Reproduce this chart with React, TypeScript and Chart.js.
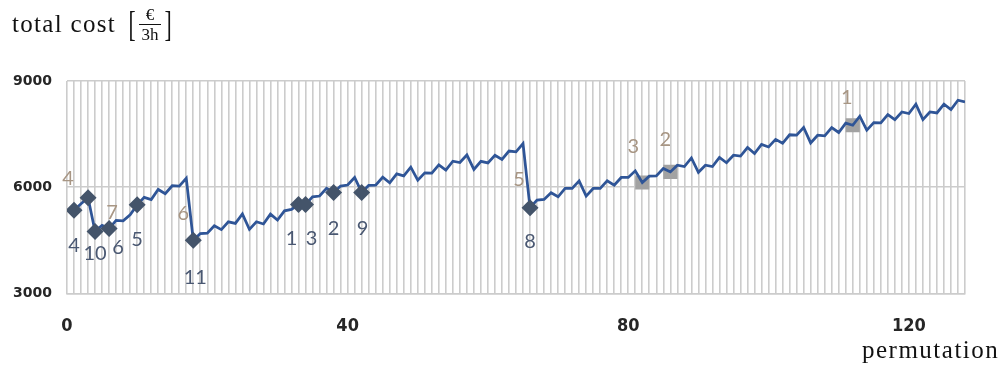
import React, { useEffect, useRef } from 'react';
import { Chart, registerables } from 'chart.js';

Chart.register(...registerables);

// Total cost per permutation (permutation 1..128)
const COST = [
  5350, 5530, 5700, 4750, 4920, 4830, 5060, 5050, 5220, 5500,
  5710, 5650, 5935, 5815, 6040, 6030, 6250, 4500, 4690, 4700,
  4910, 4800, 5020, 4975, 5240, 4806, 5021, 4960, 5238, 5069,
  5331, 5370, 5510, 5510, 5727, 5750, 5970, 5850, 6030, 6060,
  6273, 5850, 6048, 6057, 6280, 6122, 6375, 6320, 6565, 6198,
  6404, 6395, 6630, 6480, 6734, 6697, 6910, 6500, 6730, 6686,
  6903, 6785, 7020, 6997, 7233, 5420, 5633, 5653, 5840, 5727,
  5963, 5963, 6178, 5746, 5963, 5963, 6178, 6057, 6273, 6273,
  6460, 6130, 6311, 6315, 6527, 6430, 6620, 6583, 6825, 6420,
  6621, 6583, 6838, 6690, 6903, 6880, 7120, 6950, 7210, 7137,
  7350, 7240, 7480, 7468, 7685, 7250, 7468, 7450, 7685, 7545,
  7810, 7750, 8004, 7609, 7826, 7815, 8052, 7910, 8125, 8080,
  8343, 7910, 8125, 8097, 8343, 8193, 8455, 8407,
];

// Ranked permutations, first ranking (diamonds)
const RANK_A_POS = [1, 3, 4, 6, 10, 18, 33, 34, 38, 42, 66];
const RANK_A_LABELS = ['4', '', '10', '6', '5', '11', '1', '3', '2', '9', '8'];

// Ranked permutations, second ranking (squares)
const RANK_B_POS = [1, 6, 18, 66, 82, 86, 112];
const RANK_B_LABELS = ['4', '7', '6', '5', '3', '2', '1'];

const X_TICKS = [0, 40, 80, 120];
const Y_TICKS = [3000, 6000, 9000];

// label placement relative to each marker, in px
const RANK_A_OFFSETS = [
  [0, 35], [0, 0], [0, 22], [9, 19], [0, 35], [2, 37],
  [-7, 34], [6, 34], [0, 36], [1, 36], [0, 34],
];
const RANK_B_OFFSETS = [
  [-6, -32], [3, -16], [-10, -27], [-11, -28], [-9, -36], [-5, -32], [-6, -28],
];

const rankLabelsPlugin = {
  id: 'rankLabels',
  afterDatasetsDraw(chart: any) {
    const ctx = chart.ctx;
    const groups = [
      { ds: 0, labels: RANK_A_LABELS, offsets: RANK_A_OFFSETS, color: '#4A5872' },
      { ds: 2, labels: RANK_B_LABELS, offsets: RANK_B_OFFSETS, color: '#A89684' },
    ];
    ctx.save();
    ctx.font = '20px Lato, "Open Sans", sans-serif';
    ctx.textAlign = 'center';
    ctx.textBaseline = 'middle';
    for (const g of groups) {
      const meta = chart.getDatasetMeta(g.ds);
      ctx.fillStyle = g.color;
      meta.data.forEach((pt: any, i: number) => {
        const text = g.labels[i];
        if (!text) return;
        const [dx, dy] = g.offsets[i];
        ctx.fillText(text, pt.x + dx, pt.y + dy);
      });
    }
    ctx.restore();
  },
};

export default function App() {
  const canvasRef = useRef<HTMLCanvasElement | null>(null);

  useEffect(() => {
    const canvas = canvasRef.current;
    if (!canvas) return;

    const lineData = COST.map((v, i) => ({ x: i + 1, y: v }));
    const rankA = RANK_A_POS.map((p) => ({ x: p, y: COST[p - 1] }));
    const rankB = RANK_B_POS.map((p) => ({ x: p, y: COST[p - 1] }));
    // squares sharing a spot with a diamond sit fully underneath it
    const rankBRadius = RANK_B_POS.map((p) => (RANK_A_POS.includes(p) ? 0 : 10));

    const gridColor = '#CCCCCC';

    const chart = new Chart(canvas, {
      type: 'scatter',
      data: {
        datasets: [
          {
            label: 'rank A',
            data: rankA,
            showLine: false,
            pointStyle: 'rectRot',
            pointRadius: 8.5,
            backgroundColor: '#44546A',
            borderColor: '#44546A',
            borderWidth: 0,
            order: 0,
          },
          {
            label: 'total cost',
            data: lineData,
            showLine: true,
            pointRadius: 0,
            borderColor: '#2F5597',
            borderWidth: 2.75,
            tension: 0,
            order: 1,
          },
          {
            label: 'rank B',
            data: rankB,
            showLine: false,
            pointStyle: 'rect',
            pointRadius: rankBRadius,
            backgroundColor: '#A2A2A2',
            borderColor: '#A2A2A2',
            borderWidth: 0,
            order: 2,
          },
        ],
      },
      options: {
        animation: false,
        responsive: false,
        devicePixelRatio: 1,
        events: [],
        layout: { padding: { left: 0, right: 43, top: 81, bottom: 0 } },
        plugins: {
          legend: { display: false },
          tooltip: { enabled: false },
        },
        scales: {
          x: {
            type: 'linear',
            min: 0,
            max: 128,
            afterFit: (scale: any) => { scale.height = 76.7; },
            afterBuildTicks: (scale: any) => {
              const ticks = [];
              for (let v = 0; v <= 128; v++) ticks.push({ value: v });
              scale.ticks = ticks;
            },
            ticks: {
              autoSkip: false,
              maxRotation: 0,
              minRotation: 0,
              padding: 22,
              color: '#262626',
              font: { family: '"Liberation Sans Narrow", "DejaVu Sans Condensed", sans-serif', weight: 'bold', size: 18 },
              callback: (v: any) => (X_TICKS.includes(Number(v)) ? String(v) : ''),
            },
            grid: { color: gridColor, lineWidth: 1.6, drawTicks: false },
            border: { color: gridColor, width: 1.6 },
          },
          y: {
            min: 3000,
            max: 9000,
            afterFit: (scale: any) => { scale.width = 67; },
            afterBuildTicks: (scale: any) => {
              scale.ticks = Y_TICKS.map((v) => ({ value: v }));
            },
            ticks: {
              padding: 15,
              color: '#262626',
              font: { family: '"DejaVu Sans", sans-serif', weight: 'bold', size: 14 },
              callback: (v: any) => String(v),
            },
            grid: { color: gridColor, lineWidth: 1.6, drawTicks: false },
            border: { display: false },
          },
        },
      },
      plugins: [rankLabelsPlugin],
    } as any);

    return () => chart.destroy();
  }, []);

  const serif = '"Liberation Serif", "DejaVu Serif", serif';

  return (
    <div style={{ position: 'absolute', left: 0, top: 0, width: 1008, height: 370, background: '#fff', overflow: 'hidden' }}>
      <canvas ref={canvasRef} width={1008} height={370} style={{ position: 'absolute', left: 0, top: 0, width: 1008, height: 370 }} />
      <div
        style={{
          position: 'absolute',
          left: 12,
          top: 4,
          height: 40,
          display: 'flex',
          alignItems: 'center',
          fontFamily: serif,
          color: '#111',
          whiteSpace: 'nowrap',
        }}
      >
        <span style={{ fontSize: 25, letterSpacing: 1.3 }}>total cost</span>
        <span style={{ fontSize: 36, marginLeft: 10, fontWeight: 300, transform: 'scaleX(0.6)', display: 'inline-block' }}>[</span>
        <span style={{ display: 'inline-flex', flexDirection: 'column', alignItems: 'center', margin: '0 1px', lineHeight: 1 }}>
          <span style={{ fontSize: 17, paddingBottom: 1 }}>€</span>
          <span style={{ width: 22, borderTop: '1.2px solid #111' }} />
          <span style={{ fontSize: 17, paddingTop: 1 }}>3h</span>
        </span>
        <span style={{ fontSize: 36, fontWeight: 300, transform: 'scaleX(0.6)', display: 'inline-block' }}>]</span>
      </div>
      <div
        style={{
          position: 'absolute',
          left: 862,
          top: 336,
          fontFamily: serif,
          fontSize: 25,
          letterSpacing: 1.5,
          color: '#111',
          whiteSpace: 'nowrap',
        }}
      >
        permutation
      </div>
    </div>
  );
}
